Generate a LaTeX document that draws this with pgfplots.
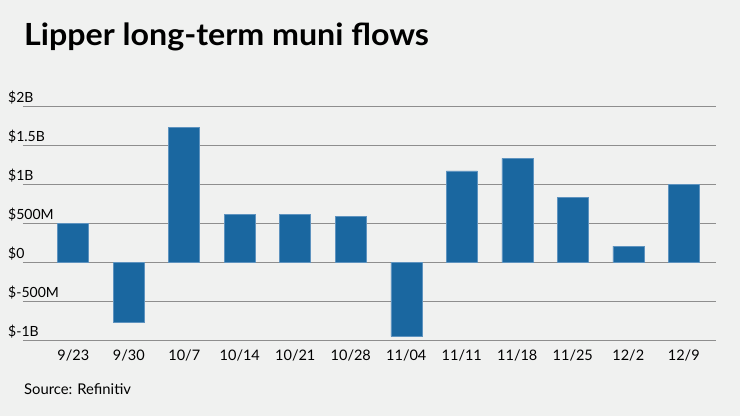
\documentclass[border=0pt]{standalone}
\usepackage{pgfplots}
\pgfplotsset{compat=1.18}
\usepackage{fontspec}
\setmainfont{Lato}
\definecolor{bg}{HTML}{F0F1F0}
\definecolor{barblue}{HTML}{1A67A0}
\definecolor{baredge}{HTML}{5E93BF}
\definecolor{gridgray}{HTML}{8E8E8E}
\begin{document}
\begin{tikzpicture}
\fill[bg] (0,0) rectangle (740bp,416bp);
\path[use as bounding box] (0,0) rectangle (740bp,416bp);
\node[anchor=base west, inner sep=0pt, font=\fontsize{30.5bp}{34bp}\selectfont\bfseries] at (24bp,370bp) {\scalebox{1.055}[1]{Lipper long-term muni flows}};
\node[anchor=base west, inner sep=0pt, font=\fontsize{14.8bp}{16bp}\selectfont] at (24bp,22bp) {Source: Refinitiv};
\begin{axis}[
  at={(23bp,76bp)}, anchor=south west,
  scale only axis, width=693bp, height=234bp,
  xmin=-0.906, xmax=11.58, ymin=-1, ymax=2,
  axis line style={draw=none},
  tick style={draw=none},
  ytick={-1,-0.5,0,0.5,1,1.5,2},
  yticklabels={\$-1B,\$-500M,\$0,\$500M,\$1B,\$1.5B,\$2B},
  ymajorgrids,
  major grid style={draw=gridgray, line width=1bp},
  xtick={0,...,11},
  xticklabels={9/23,9/30,10/7,10/14,10/21,10/28,11/04,11/11,11/18,11/25,12/2,12/9},
  yticklabel style={anchor=base west, inner sep=0pt, xshift=-15bp, yshift=3.5bp, font=\fontsize{14bp}{16bp}\selectfont},
  xticklabel style={anchor=base, inner sep=0pt, yshift=-20.7bp, font=\fontsize{14.5bp}{16bp}\selectfont},
  clip=false,
]
\addplot[ybar, bar width=31bp, fill=barblue, draw=baredge, line width=0.6bp] coordinates {
(0,0.50) (1,-0.773) (2,1.727) (3,0.615) (4,0.607) (5,0.585) (6,-0.953) (7,1.167) (8,1.329) (9,0.833) (10,0.205) (11,0.991)
};
\end{axis}
\end{tikzpicture}
\end{document}
